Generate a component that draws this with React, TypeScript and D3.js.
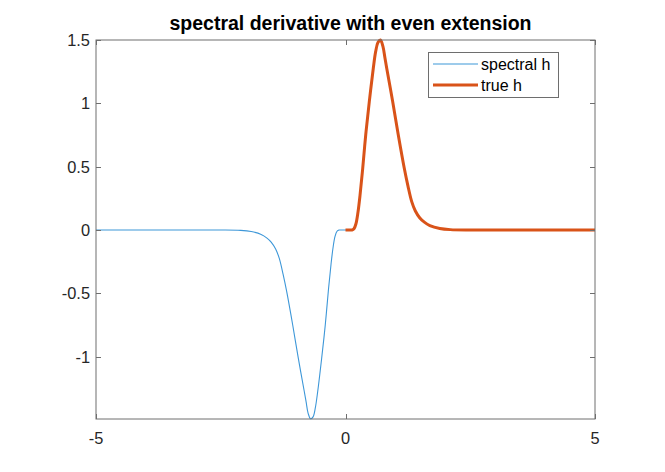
import { useEffect, useRef } from "react";
import * as d3 from "d3";

// values
const trueX = [0, 0.1, 0.13, 0.17, 0.21, 0.25, 0.29, 0.345, 0.405, 0.477, 0.557, 0.605, 0.65, 0.7, 0.75, 0.79, 0.826, 0.946, 1.058, 1.178, 1.25, 1.327, 1.4, 1.49, 1.58, 1.69, 1.89, 2.1, 2.5, 3, 4, 5];
const trueY = [0, 0, 0, 0.01, 0.05, 0.14, 0.27, 0.487, 0.75, 1.013, 1.277, 1.41, 1.48, 1.5, 1.45, 1.36, 1.277, 1.013, 0.75, 0.487, 0.35, 0.224, 0.15, 0.095, 0.062, 0.035, 0.012, 0.003, 0, 0, 0, 0];

const specX = [-5, -4, -3, -2.5, -2.1, -1.89, -1.69, -1.58, -1.49, -1.4, -1.327, -1.25, -1.178, -1.058, -0.946, -0.826, -0.79, -0.75, -0.7, -0.65, -0.605, -0.557, -0.477, -0.405, -0.345, -0.29, -0.25, -0.21, -0.17, -0.13, -0.1, 0,
  0.1, 0.13, 0.17, 0.21, 0.25, 0.29, 0.345, 0.405, 0.477, 0.557, 0.605, 0.65, 0.7, 0.75, 0.79, 0.826, 0.946, 1.058, 1.178, 1.25, 1.327, 1.4, 1.49, 1.58, 1.69, 1.89, 2.1, 2.5, 3, 4, 5];
const specY = [0, 0, 0, 0, -0.003, -0.012, -0.035, -0.062, -0.095, -0.15, -0.224, -0.35, -0.487, -0.75, -1.012, -1.275, -1.355, -1.445, -1.49, -1.475, -1.405, -1.275, -1.01, -0.748, -0.485, -0.27, -0.14, -0.05, -0.01, 0, 0, 0,
  0, 0, 0.01, 0.05, 0.14, 0.27, 0.487, 0.75, 1.013, 1.277, 1.41, 1.48, 1.5, 1.45, 1.36, 1.277, 1.013, 0.75, 0.487, 0.35, 0.224, 0.15, 0.095, 0.062, 0.035, 0.012, 0.003, 0, 0, 0, 0];

const xTicks = [-5, 0, 5];
const yTicks = [-1, -0.5, 0, 0.5, 1, 1.5];
const legendLabels = ["spectral h", "true h"];

const W = 665;
const H = 472;
const box = { left: 96, right: 595, top: 40, bottom: 419 };
const font = "Arial, 'Liberation Sans', Helvetica, sans-serif";
const axisColor = "#6e6e6e";

export default function App() {
  const ref = useRef<SVGSVGElement>(null);

  useEffect(() => {
    const svg = d3.select(ref.current);
    svg.selectAll("*").remove();

    const x = d3.scaleLinear().domain([-5, 5]).range([box.left, box.right]);
    const y = d3.scaleLinear().domain([-1.492, 1.5]).range([box.bottom, box.top]);

    svg.append("rect").attr("width", W).attr("height", H).attr("fill", "#fff");

    const mk = (xs: number[], ys: number[]) =>
      d3
        .line<number>()
        .x((_, i) => x(xs[i]))
        .y((_, i) => y(ys[i]))
        .curve(d3.curveCatmullRom.alpha(0.5))(xs);

    svg
      .append("clipPath")
      .attr("id", "plotclip")
      .append("rect")
      .attr("x", box.left)
      .attr("y", box.top - 2)
      .attr("width", box.right - box.left)
      .attr("height", box.bottom - box.top + 4);

    const g = svg.append("g").attr("clip-path", "url(#plotclip)");
    g.append("path")
      .attr("d", mk(specX, specY))
      .attr("fill", "none")
      .attr("stroke", "#3d97d8")
      .attr("stroke-width", 1.1);
    g.append("path")
      .attr("d", mk(trueX, trueY))
      .attr("fill", "none")
      .attr("stroke", "#D95319")
      .attr("stroke-width", 3)
      .attr("stroke-linejoin", "round");

    // axes box
    svg
      .append("rect")
      .attr("x", box.left)
      .attr("y", box.top)
      .attr("width", box.right - box.left)
      .attr("height", box.bottom - box.top)
      .attr("fill", "none")
      .attr("stroke", axisColor)
      .attr("stroke-width", 1);

    const tickLen = 5;
    yTicks.forEach((t) => {
      const yy = Math.round(y(t)) + 0.5;
      svg.append("line").attr("x1", box.left).attr("x2", box.left + tickLen).attr("y1", yy).attr("y2", yy).attr("stroke", axisColor);
      svg.append("line").attr("x1", box.right - tickLen).attr("x2", box.right).attr("y1", yy).attr("y2", yy).attr("stroke", axisColor);
      svg
        .append("text")
        .attr("x", box.left - 6)
        .attr("y", y(t) + 6)
        .attr("text-anchor", "end")
        .attr("font-family", font)
        .attr("font-size", 16.4)
        .attr("fill", "#262626")
        .text(String(t));
    });
    xTicks.forEach((t) => {
      const xx = Math.round(x(t)) + 0.5;
      svg.append("line").attr("x1", xx).attr("x2", xx).attr("y1", box.bottom).attr("y2", box.bottom - tickLen).attr("stroke", axisColor);
      svg.append("line").attr("x1", xx).attr("x2", xx).attr("y1", box.top).attr("y2", box.top + tickLen).attr("stroke", axisColor);
      svg
        .append("text")
        .attr("x", x(t))
        .attr("y", box.bottom + 25)
        .attr("text-anchor", "middle")
        .attr("font-family", font)
        .attr("font-size", 16.4)
        .attr("fill", "#262626")
        .text(String(t));
    });

    svg
      .append("text")
      .attr("x", (box.left + box.right) / 2 + 5)
      .attr("y", 30)
      .attr("text-anchor", "middle")
      .attr("font-family", font)
      .attr("font-size", 19.5)
      .attr("font-weight", "bold")
      .attr("fill", "#000")
      .text("spectral derivative with even extension");

    // legend
    const lg = svg.append("g");
    lg.append("rect")
      .attr("x", 428.5)
      .attr("y", 52.5)
      .attr("width", 130)
      .attr("height", 45)
      .attr("fill", "#fff")
      .attr("stroke", axisColor);
    const legendColors = ["#3d97d8", "#D95319"];
    const legendWidths = [1.1, 3];
    legendLabels.forEach((lab, i) => {
      const ly = 64 + i * 21;
      lg.append("line")
        .attr("x1", 433)
        .attr("x2", 478)
        .attr("y1", ly)
        .attr("y2", ly)
        .attr("stroke", legendColors[i])
        .attr("stroke-width", legendWidths[i]);
      lg.append("text")
        .attr("x", 481)
        .attr("y", ly + 5.5)
        .attr("font-family", font)
        .attr("font-size", 16)
        .attr("fill", "#000")
        .text(lab);
    });
  }, []);

  return (
    <svg
      ref={ref}
      width={W}
      height={H}
      style={{ position: "absolute", left: 0, top: 0 }}
    ></svg>
  );
}
